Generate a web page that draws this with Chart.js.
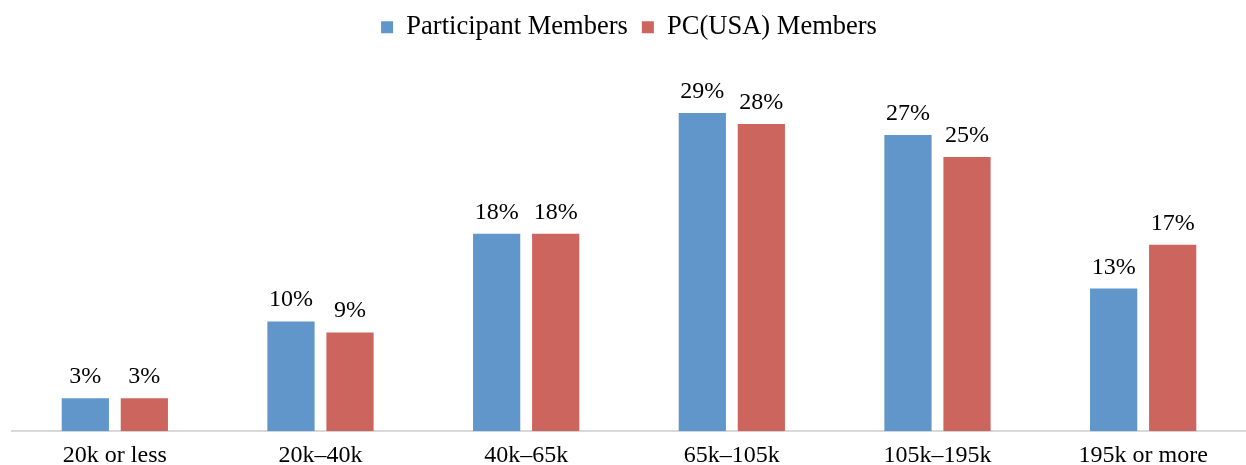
<!DOCTYPE html>
<html>
<head>
<meta charset="utf-8">
<script src="https://cdn.jsdelivr.net/npm/chart.js@4/dist/chart.umd.min.js"></script>
<style>
  html, body { margin: 0; padding: 0; background: #ffffff; }
  #wrap { width: 1246px; height: 465px; position: relative; }
</style>
</head>
<body>
<div id="wrap"><canvas id="c"></canvas></div>
<script>
const categories = ["20k or less", "20k\u201340k", "40k\u201365k", "65k\u2013105k", "105k\u2013195k", "195k or more"];
const participantValues = [3, 10, 18, 29, 27, 13];
const pcusaValues = [3, 9, 18, 28, 25, 17];
const seriesNames = ["Participant Members", "PC(USA) Members"];

const SERIF = "'Liberation Serif', 'Times New Roman', serif";

const valueLabels = {
  id: 'valueLabels',
  afterDatasetsDraw(chart) {
    const ctx = chart.ctx;
    ctx.save();
    ctx.font = "24px " + SERIF;
    ctx.fillStyle = "#000000";
    ctx.textAlign = "center";
    ctx.textBaseline = "alphabetic";
    chart.data.datasets.forEach((ds, di) => {
      const meta = chart.getDatasetMeta(di);
      meta.data.forEach((bar, i) => {
        ctx.fillText(ds.data[i] + "%", bar.x, bar.y - 15);
      });
    });
    ctx.restore();
  }
};

new Chart(document.getElementById('c'), {
  type: 'bar',
  data: {
    labels: categories,
    datasets: [
      { label: seriesNames[0], data: participantValues, backgroundColor: '#6096CA', categoryPercentage: 0.574, barPercentage: 0.8 },
      { label: seriesNames[1], data: pcusaValues, backgroundColor: '#CD655F', categoryPercentage: 0.574, barPercentage: 0.8 }
    ]
  },
  options: {
    responsive: true,
    maintainAspectRatio: false,
    animation: false,
    layout: { padding: { left: 12, right: 0, top: 0, bottom: -15 } },
    plugins: {
      legend: {
        position: 'top',
        labels: {
          font: { family: SERIF, size: 26.5 },
          color: '#000000',
          boxWidth: 12,
          boxHeight: 12,
          padding: 14
        }
      },
      tooltip: { enabled: false }
    },
    scales: {
      x: {
        grid: { display: false, drawTicks: false },
        border: { color: '#d9d9d9', width: 2 },
        ticks: { font: { family: SERIF, size: 24 }, color: '#000000', padding: 10, maxRotation: 0 }
      },
      y: {
        display: false,
        min: 0,
        max: 34.7,
        beginAtZero: true
      }
    }
  },
  plugins: [valueLabels]
});
</script>
</body>
</html>
